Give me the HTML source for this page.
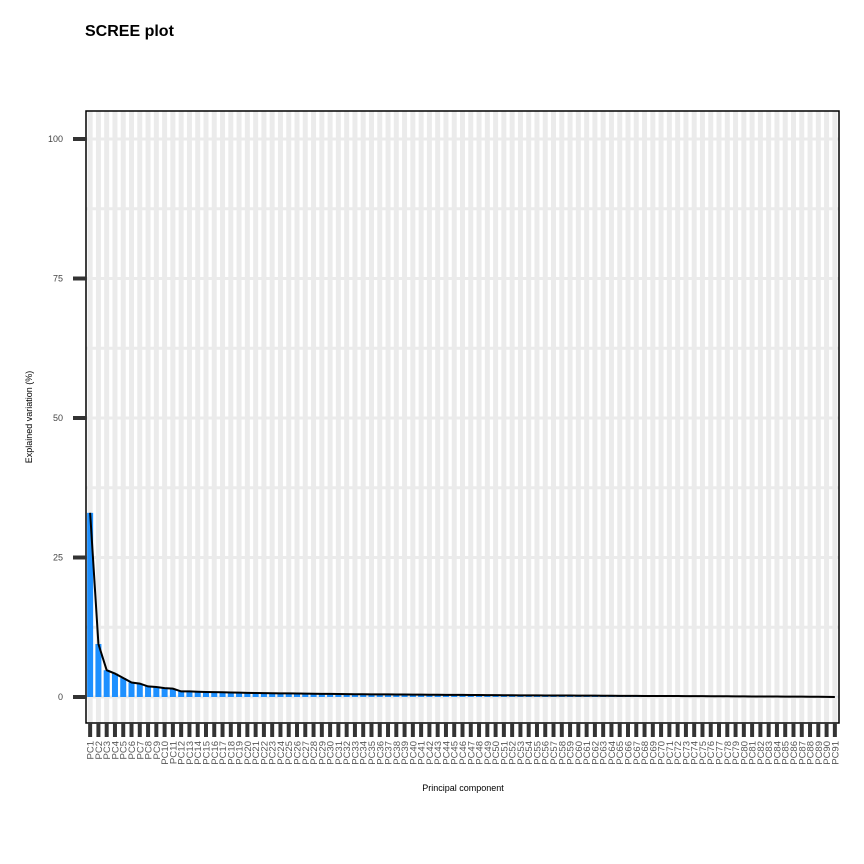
<!DOCTYPE html>
<html><head><meta charset="utf-8"><style>
body{margin:0;background:#fff;}
svg{display:block;font-family:"Liberation Sans",sans-serif;}
</style></head><body>
<svg id="chart" width="864" height="864">
<text x="85" y="36" font-size="16" font-weight="bold">SCREE plot</text>
<text x="463" y="791" font-size="9" text-anchor="middle">Principal component</text>
<text transform="translate(32,417) rotate(-90)" font-size="9" text-anchor="middle">Explained variation (%)</text>
<g id="grid"></g><g id="bars"></g><g id="line"></g><g id="axes"></g>
</svg>
<script>
const values = [33,9.5,4.8,4.2,3.4,2.6,2.4,1.9,1.8,1.6,1.5,1.0,1.0,0.95,0.9,0.88,0.85,0.8,0.78,0.75,0.72,0.7,0.68,0.66,0.64,0.62,0.6,0.58,0.56,0.55,0.54,0.52,0.5,0.49,0.48,0.47,0.46,0.45,0.44,0.43,0.42,0.41,0.4,0.39,0.38,0.37,0.36,0.35,0.34,0.33,0.32,0.31,0.3,0.3,0.29,0.28,0.27,0.27,0.26,0.25,0.24,0.24,0.23,0.22,0.21,0.21,0.2,0.19,0.19,0.18,0.17,0.17,0.16,0.15,0.15,0.14,0.13,0.13,0.12,0.11,0.1,0.1,0.09,0.08,0.07,0.07,0.06,0.05,0.04,0.03,0.01];
const categories = values.map((v,i)=>'PC'+(i+1));
const yTicks = [0,25,50,75,100];
const NS='http://www.w3.org/2000/svg';
const L=86,R=839,T=111,B=723;
const bw=(R-L)/categories.length;
const x=i=>L+bw*(i+0.5);
const y=v=>697-v*5.58;
function mk(tag,attrs,parent){const e=document.createElementNS(NS,tag);for(const k in attrs)e.setAttribute(k,attrs[k]);document.getElementById(parent).appendChild(e);return e;}
for(let g=0;g<=100;g+=12.5){const e=mk('line',{x1:L,x2:R,y1:y(g),y2:y(g),stroke:'#ebebeb','stroke-width':3},'grid');

}
categories.forEach((c,i)=>{const e=mk('line',{x1:x(i),x2:x(i),y1:T,y2:B,stroke:'#ebebeb','stroke-width':5},'grid');

});
values.forEach((v,i)=>{const e=mk('rect',{x:x(i)-3,width:6,y:y(v),height:y(0)-y(v),fill:'#1e90ff'},'bars');

});
const p=mk('polyline',{points:values.map((v,i)=>x(i)+','+y(v)).join(' '),fill:'none',stroke:'#000','stroke-width':2},'line');


const fr=mk('rect',{x:L,y:T,width:R-L,height:B-T,fill:'none',stroke:'#000','stroke-width':1.5},'axes');


yTicks.forEach(t=>{const k=mk('rect',{x:73,y:y(t)-2,width:13,height:4,fill:'#333'},'axes');


const l=mk('text',{x:63,y:y(t)+3,'font-size':9,'text-anchor':'end',fill:'#444'},'axes');l.textContent=t;

});
categories.forEach((c,i)=>{const k=mk('rect',{x:x(i)-2,y:B,width:4,height:14,fill:'#333'},'axes');


const l=mk('text',{transform:'translate('+(x(i)+3.5)+',741) rotate(-90)','font-size':9.5,'text-anchor':'end',fill:'#555'},'axes');l.textContent=c;

});
</script>
</body></html>
